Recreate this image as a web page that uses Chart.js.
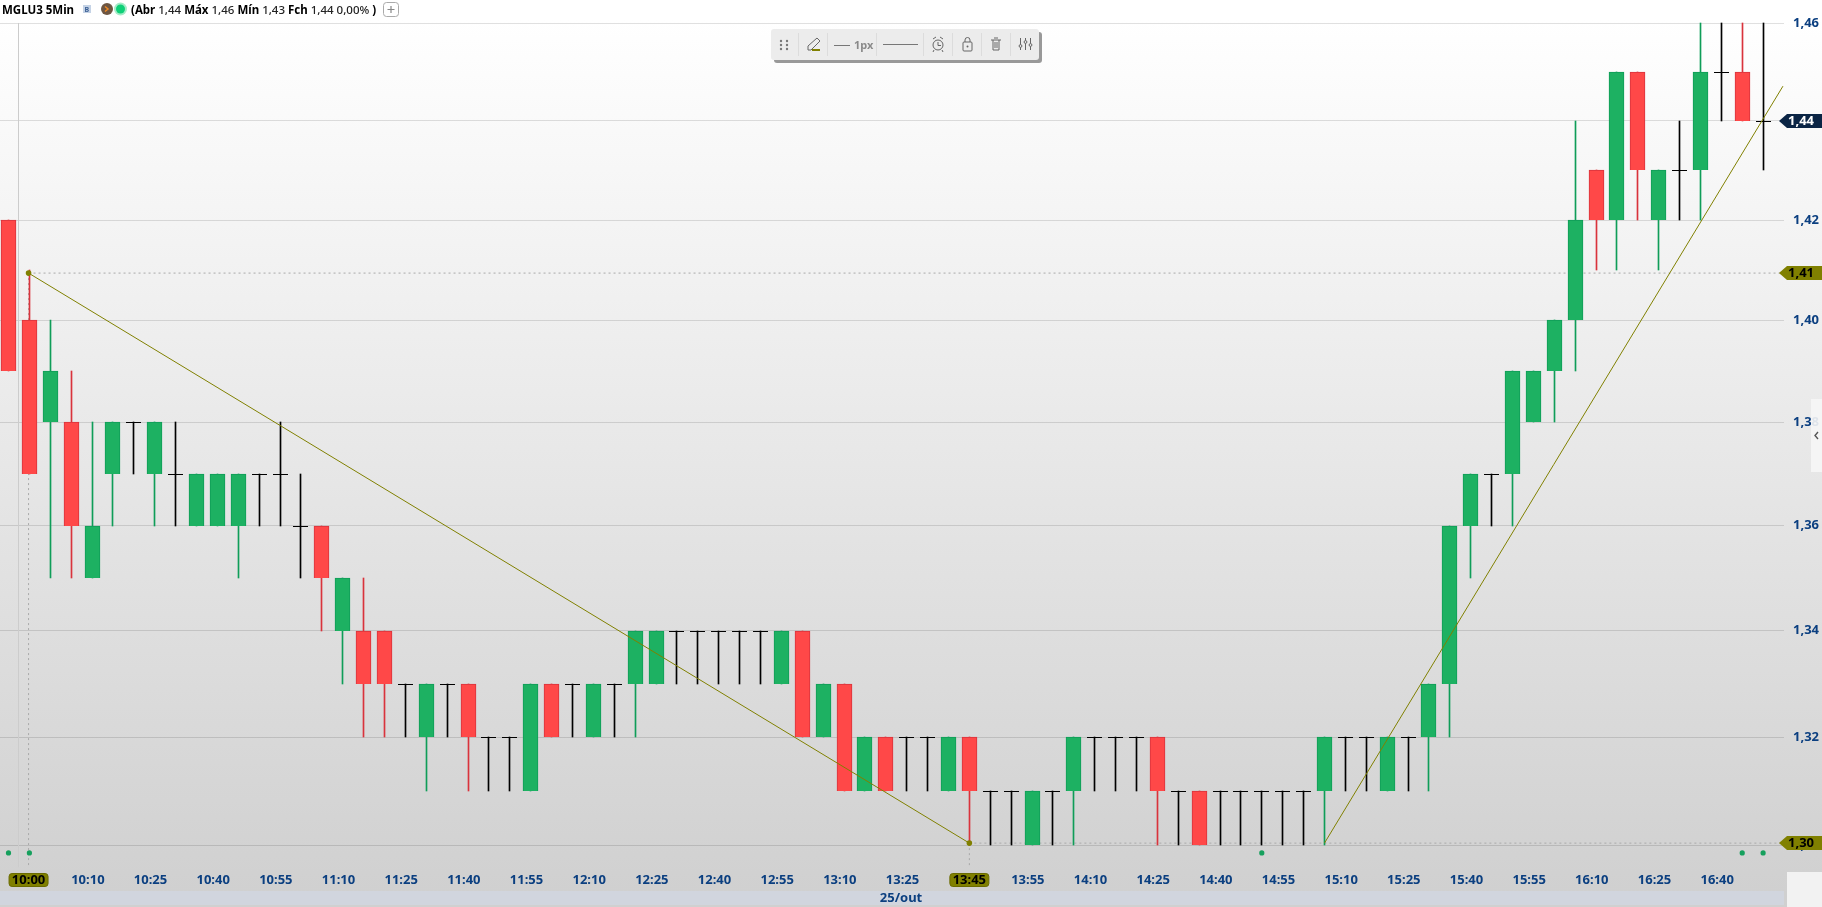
<!DOCTYPE html>
<html lang="pt-BR">

<head>
    <meta charset="UTF-8">
    <title>MGLU3 5Min</title>
    <script src="https://cdn.jsdelivr.net/npm/chart.js"></script>
    <style>
        body { margin: 0; }
        .tela {
            position: relative; width: 1822px; height: 907px; overflow: hidden;
            background: linear-gradient(#ffffff 20px, #d0d0d0 892px);
            font-family: "Noto Sans", sans-serif;
        }
        canvas { position: absolute; left: 0; top: 0; }
        .cabecalho {
            position: absolute; left: 2px; top: 0; height: 19px; line-height: 19px;
            font-size: 11.5px; font-weight: 700; color: #000; white-space: nowrap;
        }
        .cabecalho .valor { font-weight: 500; color: #222; }
        .cabecalho svg { position: absolute; left: 76px; top: 0; }
        .ativo { position: absolute; left: 0; top: 0; }
        .resumo { position: absolute; left: 129px; top: 0; }
        .ferramentas {
            position: absolute; left: 771px; top: 29px; width: 268px; height: 31px;
            background: #ececec; border-radius: 3px; box-shadow: 3px 3px 0 #999;
        }
    </style>
</head>

<body>
    <div class="tela">
        <canvas id="grafico" width="1822" height="907"></canvas>

        <div class="cabecalho">
            <span class="ativo">MGLU3 5Min</span>
            <svg width="325" height="19">
                <rect x="5" y="5" width="8" height="8" fill="#c5d3e6" />
                <text x="6.5" y="12" font-size="7" font-weight="700" fill="#3b5f94">B</text>
                <circle cx="29" cy="9" r="6" fill="#6e5642" />
                <path d="M27 6.5 L30 9 L27 11.5" fill="none" stroke="#f08a24" stroke-width="1.5" />
                <circle cx="42.5" cy="9" r="6.5" fill="#a6ecc8" />
                <circle cx="42.5" cy="9" r="4.5" fill="#0fd078" />
                <rect x="305.5" y="2.5" width="15" height="14" rx="3" fill="#fff" stroke="#aaa" />
                <path d="M313 6 V13 M309.5 9.5 H316.5" stroke="#888" stroke-width="1.2" />
            </svg>
            <span class="resumo">(Abr <span class="valor">1,44</span> Máx <span class="valor">1,46</span> Mín <span class="valor">1,43</span> Fch <span class="valor">1,44</span> <span class="valor">0,00%</span> )</span>
        </div>

        <div class="ferramentas">
            <svg width="268" height="31">
                <g stroke="#dcdcdc"><path d="M27.5 4V27 M56.5 4V27 M105.5 4V27 M152.5 4V27 M181.5 4V27 M210.5 4V27 M239.5 4V27" /></g>
                <g fill="#777">
                    <circle cx="10" cy="12" r="1.2" /><circle cx="16" cy="12" r="1.2" />
                    <circle cx="10" cy="16" r="1.2" /><circle cx="16" cy="16" r="1.2" />
                    <circle cx="10" cy="20" r="1.2" /><circle cx="16" cy="20" r="1.2" />
                </g>
                <path d="M37 21 L37 17 L46 9 L49 12 L40 21 Z" fill="none" stroke="#666" />
                <rect x="41" y="20" width="8" height="2" fill="#808000" />
                <path d="M63 16.5H79 M112 15.5H147" stroke="#777" />
                <text x="83" y="20" font-size="11" font-weight="700" fill="#8a8a8a">1px</text>
                <circle cx="167" cy="16" r="5" fill="none" stroke="#666" />
                <path d="M167 13V16.5H170 M162 10L165 8 M172 10L169 8 M163 21L162 23 M171 21L172 23" fill="none" stroke="#666" />
                <rect x="192" y="13" width="9" height="9" rx="1" fill="none" stroke="#666" />
                <path d="M194 13V11A2.5 2.5 0 0 1 199 11V13" fill="none" stroke="#666" />
                <circle cx="196.5" cy="17.5" r="1" fill="#666" />
                <path d="M220 11H230 M222 11V21H228V11 M223 9H227 M224 13V19 M226 13V19" fill="none" stroke="#666" />
                <path d="M249.5 9V21 M254.5 9V21 M259.5 9V21" stroke="#666" />
                <g fill="#ececec" stroke="#666"><circle cx="249.5" cy="17" r="1.4" /><circle cx="254.5" cy="13" r="1.4" /><circle cx="259.5" cy="16" r="1.4" /></g>
            </svg>
        </div>
    </div>
</body>

<script>
    // candles de 5 min, do 09:55 ate o ultimo
    const abertura = [
        1.42, 1.40, 1.38, 1.38, 1.35, 1.37, 1.38, 1.37, 1.37, 1.36, 1.36, 1.36, 1.37, 1.37, 1.36, 1.36, 1.34,
        1.34, 1.34, 1.33, 1.32, 1.33, 1.33, 1.32, 1.32, 1.31, 1.33, 1.33, 1.32, 1.33, 1.33, 1.33, 1.34, 1.34,
        1.34, 1.34, 1.34, 1.33, 1.34, 1.32, 1.33, 1.31, 1.32, 1.32, 1.32, 1.31, 1.32, 1.31, 1.31, 1.30, 1.31,
        1.31, 1.32, 1.32, 1.32, 1.32, 1.31, 1.31, 1.31, 1.31, 1.31, 1.31, 1.31, 1.31, 1.32, 1.32, 1.31, 1.32,
        1.32, 1.33, 1.36, 1.37, 1.37, 1.38, 1.39, 1.40, 1.43, 1.42, 1.45, 1.42, 1.43, 1.43, 1.45, 1.45, 1.44
    ];
    const maxima = [
        1.42, 1.41, 1.40, 1.39, 1.38, 1.38, 1.38, 1.38, 1.38, 1.37, 1.37, 1.37, 1.37, 1.38, 1.37, 1.36, 1.35,
        1.35, 1.34, 1.33, 1.33, 1.33, 1.33, 1.32, 1.32, 1.33, 1.33, 1.33, 1.33, 1.33, 1.34, 1.34, 1.34, 1.34,
        1.34, 1.34, 1.34, 1.34, 1.34, 1.33, 1.33, 1.32, 1.32, 1.32, 1.32, 1.32, 1.32, 1.31, 1.31, 1.31, 1.31,
        1.32, 1.32, 1.32, 1.32, 1.32, 1.31, 1.31, 1.31, 1.31, 1.31, 1.31, 1.31, 1.32, 1.32, 1.32, 1.32, 1.32,
        1.33, 1.36, 1.37, 1.37, 1.39, 1.39, 1.40, 1.44, 1.43, 1.45, 1.45, 1.43, 1.44, 1.46, 1.46, 1.46, 1.46
    ];
    const minima = [
        1.39, 1.37, 1.35, 1.35, 1.35, 1.36, 1.37, 1.36, 1.36, 1.36, 1.36, 1.35, 1.36, 1.36, 1.35, 1.34, 1.33,
        1.32, 1.32, 1.32, 1.31, 1.32, 1.31, 1.31, 1.31, 1.31, 1.32, 1.32, 1.32, 1.32, 1.32, 1.33, 1.33, 1.33,
        1.33, 1.33, 1.33, 1.33, 1.32, 1.32, 1.31, 1.31, 1.31, 1.31, 1.31, 1.31, 1.30, 1.30, 1.30, 1.30, 1.30,
        1.30, 1.31, 1.31, 1.31, 1.30, 1.30, 1.30, 1.30, 1.30, 1.30, 1.30, 1.30, 1.30, 1.31, 1.31, 1.31, 1.31,
        1.31, 1.32, 1.35, 1.36, 1.36, 1.38, 1.38, 1.39, 1.41, 1.41, 1.42, 1.41, 1.42, 1.42, 1.44, 1.44, 1.43
    ];
    const fechamento = [
        1.39, 1.37, 1.39, 1.36, 1.36, 1.38, 1.38, 1.38, 1.37, 1.37, 1.37, 1.37, 1.37, 1.37, 1.36, 1.35, 1.35,
        1.33, 1.33, 1.33, 1.33, 1.33, 1.32, 1.32, 1.32, 1.33, 1.32, 1.33, 1.33, 1.33, 1.34, 1.34, 1.34, 1.34,
        1.34, 1.34, 1.34, 1.34, 1.32, 1.33, 1.31, 1.32, 1.31, 1.32, 1.32, 1.32, 1.31, 1.31, 1.31, 1.31, 1.31,
        1.32, 1.32, 1.32, 1.32, 1.31, 1.31, 1.30, 1.31, 1.31, 1.31, 1.31, 1.31, 1.32, 1.32, 1.32, 1.32, 1.32,
        1.33, 1.36, 1.37, 1.37, 1.39, 1.39, 1.40, 1.42, 1.42, 1.45, 1.43, 1.43, 1.43, 1.45, 1.45, 1.44, 1.44
    ];

    const precosEixo = [1.30, 1.32, 1.34, 1.36, 1.38, 1.40, 1.42, 1.44, 1.46];
    const posicoesHora = [3, 6, 9, 12, 15, 18, 21, 24, 27, 30, 33, 36, 39, 42, 48, 51, 54, 57, 60, 63, 66, 69, 72, 75, 78, 81];
    const rotulosHora = ['10:10', '10:25', '10:40', '10:55', '11:10', '11:25', '11:40', '11:55', '12:10', '12:25', '12:40', '12:55', '13:10', '13:25',
        '13:55', '14:10', '14:25', '14:40', '14:55', '15:10', '15:25', '15:40', '15:55', '16:10', '16:25', '16:40'];

    // linhas desenhadas pelo usuario
    const tendenciaBaixaX = [0.96, 46];
    const tendenciaBaixaY = [1.4094, 1.3004];
    const tendenciaAltaX = [63, 84.95];
    const tendenciaAltaY = [1.3004, 1.4471];
    const pontilhadoX = [85.4];
    const baseVerticais = 1.2960;
    const separadorX = 0.48;

    const sinaisX = [0, 1, 60, 83, 84];
    const sinaisY = [1.2986, 1.2986, 1.2986, 1.2986, 1.2986];

    const VERDE = '#1db162', VERDE_BORDA = '#0f9d58';
    const VERMELHO = '#ff4848', VERMELHO_BORDA = '#d9333c';
    const OLIVA = '#808000', AZUL = '#0b3f80';

    var pavios = [], corPavio = [], corpos = [], corCorpo = [], bordaCorpo = [], dojis = [];
    abertura.forEach(function (abr, i) {
        var fch = fechamento[i];
        pavios.push({ x: i, y: [minima[i], maxima[i]] });
        corPavio.push(fch > abr ? VERDE_BORDA : fch < abr ? VERMELHO_BORDA : '#000');
        if (fch === abr) {
            dojis.push({ x: i, y: abr });
        } else {
            corpos.push({ x: i, y: [abr, fch] });
            corCorpo.push(fch > abr ? VERDE : VERMELHO);
            bordaCorpo.push(fch > abr ? VERDE_BORDA : VERMELHO_BORDA);
        }
    });

    function segmento(xs, ys, extra) {
        return Object.assign({
            type: 'line',
            data: xs.map(function (x, i) { return { x: x, y: ys[i] }; }),
            pointRadius: 0, tension: 0, order: 0
        }, extra);
    }

    // alinha barras e traços no pixel para ficarem nítidos
    const alinharPixels = {
        id: 'alinharPixels',
        afterDatasetsUpdate(chart) {
            chart.data.datasets.forEach(function (ds, i) {
                if (!ds.alinhar) return;
                chart.getDatasetMeta(i).data.forEach(function (el) {
                    el.x = Math.floor(el.x) + 0.5;
                    if (ds.type === 'bar') {
                        el.y = Math.round(el.y);
                        el.base = Math.round(el.base);
                    } else {
                        el.y = Math.round(el.y) + 0.5;
                    }
                });
            });
        }
    };

    function etiquetaPreco(ctx, chart, valor, texto, fundo, corTexto) {
        var y = Math.round(chart.scales.y.getPixelForValue(valor));
        ctx.fillStyle = fundo;
        ctx.beginPath();
        ctx.moveTo(1779, y);
        ctx.lineTo(1787, y - 7);
        ctx.lineTo(1822, y - 7);
        ctx.lineTo(1822, y + 7);
        ctx.lineTo(1787, y + 7);
        ctx.closePath();
        ctx.fill();
        ctx.fillStyle = corTexto;
        ctx.font = '700 13px "Noto Sans"';
        ctx.textAlign = 'left';
        ctx.textBaseline = 'middle';
        ctx.fillText(texto, 1788, y);
    }

    function etiquetaHora(ctx, chart, indice, texto) {
        var x = chart.scales.x.getPixelForValue(indice);
        ctx.fillStyle = OLIVA;
        ctx.strokeStyle = '#6b6b00';
        ctx.beginPath();
        ctx.roundRect(x - 19.5, 873.5, 39, 13, 3);
        ctx.fill();
        ctx.stroke();
        ctx.fillStyle = '#000';
        ctx.font = '700 13px "Noto Sans"';
        ctx.textAlign = 'center';
        ctx.textBaseline = 'middle';
        ctx.fillText(texto, x, 880);
    }

    const decoracao = {
        id: 'decoracao',
        afterDraw(chart) {
            const ctx = chart.ctx;
            ctx.save();
            // faixa da data e canto inferior direito
            ctx.fillStyle = '#d1d5de';
            ctx.fillRect(0, 891, 1784, 14);
            ctx.fillStyle = '#f2f2f2';
            ctx.fillRect(1787, 872, 35, 35);
            ctx.fillStyle = AZUL;
            ctx.font = '700 13px "Noto Sans"';
            ctx.textAlign = 'center';
            ctx.textBaseline = 'middle';
            ctx.fillText('25/out', 901, 898);

            etiquetaHora(ctx, chart, tendenciaBaixaX[0], '10:00');
            etiquetaHora(ctx, chart, tendenciaBaixaX[1], '13:45');
            etiquetaPreco(ctx, chart, maxima[84] - 0.02, '1,44', '#0b2545', '#fff');
            etiquetaPreco(ctx, chart, tendenciaBaixaY[0], '1,41', OLIVA, '#000');
            etiquetaPreco(ctx, chart, tendenciaBaixaY[1], '1,30', OLIVA, '#000');

            // aba lateral recolhida
            ctx.fillStyle = 'rgba(246,246,246,0.9)';
            ctx.fillRect(1811, 399, 11, 73);
            ctx.strokeStyle = '#555';
            ctx.lineWidth = 1.4;
            ctx.beginPath();
            ctx.moveTo(1818, 432);
            ctx.lineTo(1815, 435.5);
            ctx.lineTo(1818, 439);
            ctx.stroke();
            ctx.restore();
        }
    };

    new Chart(document.getElementById('grafico'), {
        data: {
            datasets: [
                segmento([separadorX, separadorX], [1.46, baseVerticais], { borderColor: '#cccccc', borderWidth: 1, order: 6 }),
                { type: 'bar', data: pavios, backgroundColor: corPavio, barThickness: 1, grouped: false, alinhar: true, order: 3 },
                { type: 'bar', data: corpos, backgroundColor: corCorpo, borderColor: bordaCorpo, borderWidth: 1, barThickness: 15, grouped: false, alinhar: true, order: 2 },
                { type: 'line', data: dojis, showLine: false, pointStyle: 'line', pointRadius: 7.5, pointBorderColor: '#000', pointBorderWidth: 1, alinhar: true, order: 1 },
                segmento([tendenciaBaixaX[0], pontilhadoX[0]], [tendenciaBaixaY[0], tendenciaBaixaY[0]], { borderColor: '#a9a9a9', borderWidth: 1, borderDash: [2, 3], order: 5 }),
                segmento([tendenciaBaixaX[1], pontilhadoX[0]], [tendenciaBaixaY[1], tendenciaBaixaY[1]], { borderColor: '#a9a9a9', borderWidth: 1, borderDash: [2, 3], order: 5 }),
                segmento([tendenciaBaixaX[0], tendenciaBaixaX[0]], [tendenciaBaixaY[0], baseVerticais], { borderColor: '#a9a9a9', borderWidth: 1, borderDash: [2, 3], order: 5 }),
                segmento([tendenciaBaixaX[1], tendenciaBaixaX[1]], [tendenciaBaixaY[1], baseVerticais], { borderColor: '#a9a9a9', borderWidth: 1, borderDash: [2, 3], order: 5 }),
                segmento(tendenciaBaixaX, tendenciaBaixaY, { borderColor: OLIVA, borderWidth: 1, pointRadius: 2.8, pointBackgroundColor: OLIVA, pointBorderWidth: 0 }),
                segmento(tendenciaAltaX, tendenciaAltaY, { borderColor: OLIVA, borderWidth: 1 }),
                segmento(sinaisX, sinaisY, { showLine: false, pointRadius: 2.6, pointBackgroundColor: '#16a05d', pointBorderWidth: 0 })
            ]
        },
        options: {
            responsive: false,
            animation: false,
            events: [],
            layout: { padding: 0, autoPadding: false },
            plugins: { legend: { display: false }, tooltip: { enabled: false } },
            scales: {
                x: {
                    type: 'linear',
                    offset: false,
                    min: -0.407,
                    max: 85,
                    afterFit(escala) { escala.height = 36; escala.paddingLeft = 0; escala.paddingRight = 0; },
                    afterBuildTicks(escala) {
                        escala.ticks = posicoesHora.map(function (p) { return { value: p }; });
                    },
                    grid: { display: false, drawTicks: false },
                    border: { display: false },
                    ticks: {
                        autoSkip: false,
                        maxRotation: 0,
                        align: 'start',
                        padding: 1,
                        color: AZUL,
                        font: { family: 'Noto Sans', size: 13, weight: '700' },
                        callback: function (valor) { return rotulosHora[posicoesHora.indexOf(valor)]; }
                    }
                },
                y: {
                    type: 'logarithmic',
                    position: 'right',
                    min: 1.29529,
                    max: 1.46481,
                    afterFit(escala) { escala.width = 38; escala.paddingTop = 0; escala.paddingBottom = 0; },
                    afterBuildTicks(escala) {
                        escala.ticks = precosEixo.map(function (p) { return { value: p }; });
                    },
                    grid: { color: 'rgba(0,0,0,0.12)', drawTicks: false },
                    border: { display: false },
                    ticks: {
                        autoSkip: false,
                        padding: 9,
                        color: AZUL,
                        font: { family: 'Noto Sans', size: 13, weight: '700' },
                        callback: function (valor) { return valor.toFixed(2).replace('.', ','); }
                    }
                }
            }
        },
        plugins: [alinharPixels, decoracao]
    });
</script>

</html>
